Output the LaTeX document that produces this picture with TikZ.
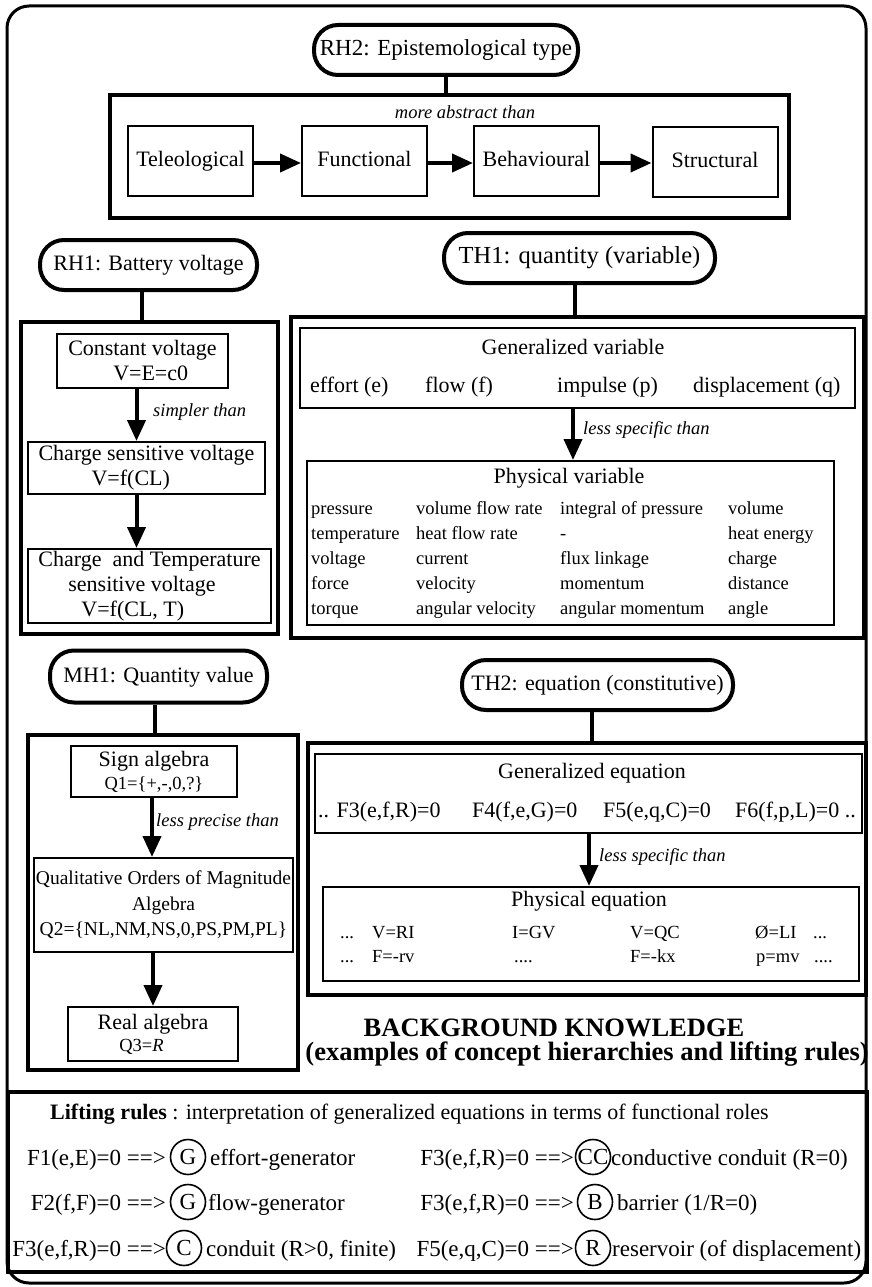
\documentclass[tikz,border=0pt]{standalone}
\usepackage{fontspec}
\setmainfont{Liberation Serif}
\usetikzlibrary{positioning,arrows.meta}

\newcommand{\txtmain}{\fontsize{22}{25}\selectfont}
\newcommand{\txtrule}{\fontsize{23}{26}\selectfont}
\newcommand{\txtsmall}{\fontsize{18.5}{22}\selectfont}
\newcommand{\txthead}{\fontsize{26.5}{30}\selectfont\bfseries}

\tikzset{
  pill/.style={draw, line width=4pt, rounded corners=24pt, minimum height=50pt, inner xsep=2pt,
    text height=16pt, text depth=5pt, font=\txtmain},
  groupbox/.style={draw, line width=4.5pt},
  itembox/.style={draw, line width=2pt, font=\txtmain, inner sep=2pt},
  epibox/.style={itembox, minimum width=125pt, minimum height=69pt, text height=16pt, text depth=5pt},
  stem/.style={line width=4pt},
  flowarrow/.style={line width=4pt, -{Triangle[length=21pt,width=18pt]}},
  relname/.style={font=\txtsmall\itshape, anchor=west, inner sep=0pt},
  title/.style={font=\txtmain, anchor=base, inner sep=0pt},
  entry/.style={font=\txtmain, anchor=base west, inner sep=0pt},
  cell/.style={font=\txtsmall, anchor=base west, inner sep=0pt},
  rulel/.style={font=\txtrule, anchor=base east, inner sep=0pt},
  ruler/.style={font=\txtrule, anchor=base west, inner sep=0pt},
  role/.style={draw, circle, line width=1.6pt, minimum size=35pt, inner sep=0pt, font=\txtrule},
}

\begin{document}
\begin{tikzpicture}[x=1pt,y=-1pt]
\useasboundingbox (0,0) rectangle (871,1287);
\draw[line width=3pt, rounded corners=22pt] (7,6) rectangle (866,1283);

% RH2: epistemological type
\node[pill, minimum width=264pt, font=\fontsize{23}{26}\selectfont] (rhtwo) at (446,50) {RH2: Epistemological type};
\node[groupbox, minimum width=679pt, minimum height=123pt] (rhtwobox) at (449.5,156.5) {};
\draw[stem] (rhtwo.south) -- (rhtwo.south |- rhtwobox.north);
\node[font=\txtsmall\itshape] (abstr) at (465,112) {more abstract than};
\node[epibox] (tele) at (190.5,161) {Teleological};
\node[epibox] (func) at (364.5,161) {Functional};
\node[epibox] (behav) at (536.5,161) {Behavioural};
\node[epibox] (struct) at (715,162) {Structural};
\foreach \a/\b in {tele/func,func/behav,behav/struct}
    \draw[flowarrow] ([yshift=-2pt]\a.east) -- ([yshift=-2pt]\a.east -| \b.west);

% RH1: battery voltage
\node[pill, minimum width=217pt] (rhone) at (148.5,265) {RH1: Battery voltage};
\node[groupbox, minimum width=257pt, minimum height=312pt] (rhonebox) at (149.5,478) {};
\draw[stem] ([xshift=-7pt]rhone.south) -- ([xshift=-7pt]rhone.south |- rhonebox.north);
\node[itembox, minimum width=171pt, minimum height=54pt, align=left] (cvolt) at (142.5,361)
    {Constant voltage\\\hspace*{45pt}V=E=c0};
\node[itembox, minimum width=237pt, minimum height=52pt, align=left] (csens) at (146.5,468)
    {Charge sensitive voltage\\\hspace*{53pt}V=f(CL)};
\node[itembox, minimum width=243pt, minimum height=74pt, align=left] (ctemp) at (149.5,586)
    {Charge\ \ and Temperature\\\hspace*{30pt}sensitive voltage\\\hspace*{43pt}V=f(CL, T)};
\draw[flowarrow] ([xshift=-6pt]cvolt.south) -- ([xshift=-6pt]cvolt.south |- csens.north);
\draw[flowarrow] ([xshift=-10pt]csens.south) -- ([xshift=-10pt]csens.south |- ctemp.north);
\node[relname] (simpler) at (153,412) {simpler than};

% TH1: quantity (variable)
\node[pill, minimum width=271pt, font=\fontsize{24.5}{27}\selectfont] (thone) at (579.5,258) {TH1: quantity (variable)};
\node[groupbox, minimum width=573pt, minimum height=321pt] (thonebox) at (577.5,477.5) {};
\draw[stem] ([xshift=-5pt]thone.south) -- ([xshift=-5pt]thone.south |- thonebox.north);
\node[itembox, minimum width=555pt, minimum height=80pt] (genvar) at (577.5,368) {};
\node[title] (genvartitle) at (573,354) {Generalized variable};
\foreach \x/\t in {310/effort (e),425/flow (f),557/impulse (p),693/displacement (q)}
    \node[entry] at (\x,392) {\t};
\node[itembox, minimum width=527pt, minimum height=164pt] (phvar) at (570.5,543) {};
\node[title] (phvartitle) at (569,483) {Physical variable};
\draw[flowarrow] (genvar.south -| 573,0) -- (phvar.north -| 573,0);
\node[relname] (specone) at (583,430) {less specific than};
\foreach \a/\b/\c/\d [count=\r] in {pressure/volume flow rate/integral of pressure/volume,
    temperature/heat flow rate/-/heat energy,
    voltage/current/flux linkage/charge,
    force/velocity/momentum/distance,
    torque/angular velocity/angular momentum/angle}
{
    \node[cell] at (311,489+25*\r) {\a};
    \node[cell] at (416,489+25*\r) {\b};
    \node[cell] at (560,489+25*\r) {\c};
    \node[cell] at (728,489+25*\r) {\d};
}

% MH1: quantity value
\node[pill, minimum width=217pt, minimum height=52pt] (mhone) at (158.5,676.5) {MH1: Quantity value};
\node[groupbox, minimum width=270pt, minimum height=335pt] (mhonebox) at (163,902.5) {};
\draw[stem] ([xshift=-4pt]mhone.south) -- ([xshift=-4pt]mhone.south |- mhonebox.north);
\node[itembox, minimum width=166pt, minimum height=51pt, align=center] (signalg) at (154,771.5)
    {Sign algebra\\[-2pt]{\txtsmall Q1=\{+,-,0,?\}}};
\node[itembox, minimum width=257pt, minimum height=94pt, align=center, font=\fontsize{19.5}{25.5}\selectfont] (qom) at (163.5,905)
    {Qualitative Orders of Magnitude\\Algebra\\Q2=\{NL,NM,NS,0,PS,PM,PL\}};
\node[itembox, minimum width=170pt, minimum height=54pt, align=center] (realalg) at (153,1034)
    {Real algebra\\[-3pt]\hspace*{-23pt}{\txtsmall Q3=\textit{R}}};
\draw[flowarrow] ([xshift=-2pt]signalg.south) -- ([xshift=-2pt]signalg.south |- qom.north);
\draw[flowarrow] (qom.south -| realalg.north) -- (realalg.north);
\node[relname] (precise) at (156,822) {less precise than};

% TH2: equation (constitutive)
\node[pill, minimum width=271pt, inner xsep=0pt] (thtwo) at (597.5,685) {TH2: equation (constitutive)};
\node[groupbox, minimum width=558pt, minimum height=252pt] (thtwobox) at (587,869) {};
\draw[stem] ([xshift=-5.5pt]thtwo.south) -- ([xshift=-5.5pt]thtwo.south |- thtwobox.north);
\node[itembox, minimum width=547pt, minimum height=79pt] (geneq) at (588.5,793.5) {};
\node[title] (geneqtitle) at (592,778) {Generalized equation};
\foreach \x/\t in {318/{.. F3(e,f,R)=0},472/{F4(f,e,G)=0},603/{F5(e,q,C)=0},735/{F6(f,p,L)=0 ..}}
    \node[entry] at (\x,817) {\t};
\node[itembox, minimum width=536pt, minimum height=94pt] (pheq) at (591,934) {};
\node[title] (pheqtitle) at (589,906) {Physical equation};
\draw[flowarrow] (geneq.south -| 589,0) -- (pheq.north -| 589,0);
\node[relname] (spectwo) at (599,857) {less specific than};
\foreach \x/\t in {340/{...},372/{V=RI},512/{I=GV},630/{V=QC},755/{Ø=LI},813/{...}}
    \node[cell] at (\x,938) {\t};
\foreach \x/\t in {340/{...},372/{F=-rv},514/{....},630/{F=-kx},756/{p=mv},814/{....}}
    \node[cell] at (\x,962) {\t};

% background knowledge title
\node[font=\txthead, anchor=base, inner sep=0pt] (bk) at (554,1036) {BACKGROUND KNOWLEDGE};
\node[font=\txthead, anchor=base east, inner sep=0pt] (bksub) at (869,1060) {(examples of concept hierarchies and lifting rules)};

% lifting rules
\node[groupbox, minimum width=859pt, minimum height=180pt] (liftbox) at (437.5,1182) {};
\node[font=\txtmain, anchor=base west, inner sep=0pt] (lifthead) at (50,1119)
    {\textbf{Lifting rules} : interpretation of generalized equations in terms of functional roles};

\node[rulel] (fone) at (166,1165) {F1(e,E)=0 ==>};
\node[role] (effgen) at (188,1157) {G};
\node[ruler] at (210,1165) {effort-generator};
\node[rulel] (ftwo) at (166,1210) {F2(f,F)=0 ==>};
\node[role] (flowgen) at (188,1202) {G};
\node[ruler] at (208,1210) {flow-generator};
\node[rulel] (fthree) at (166,1256) {F3(e,f,R)=0 ==>};
\node[role] (cond) at (184,1248) {C};
\node[ruler] at (206,1256) {conduit (R>0, finite)};

\node[rulel] (fthreecc) at (574,1165) {F3(e,f,R)=0 ==>};
\node[role] (condcc) at (593,1157) {CC};
\node[ruler] at (611,1165) {conductive conduit (R=0)};
\node[rulel] (fthreeb) at (574,1210) {F3(e,f,R)=0 ==>};
\node[role] (barr) at (595,1202) {B};
\node[ruler] at (617,1210) {barrier (1/R=0)};
\node[rulel] (ffive) at (574,1256) {F5(e,q,C)=0 ==>};
\node[role] (resv) at (593,1248) {R};
\node[ruler] at (612,1256) {reservoir (of displacement)};
\end{tikzpicture}
\end{document}
